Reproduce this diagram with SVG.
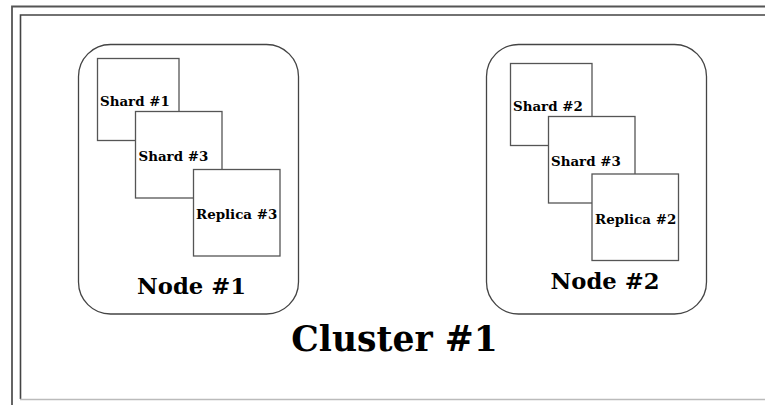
<svg xmlns="http://www.w3.org/2000/svg" width="765" height="405" viewBox="0 0 765 405">
<style>
text{font-family:"DejaVu Serif",serif;font-weight:bold;fill:#000}
.node{fill:#fff;stroke:#444;stroke-width:1.3}
.box{fill:#fff;stroke:#555;stroke-width:1.3}
.sl{font-size:13.4px}
.nl{font-size:22.7px}
</style>
<rect width="765" height="405" fill="#fff"/>
<g id="frame">
<path d="M12 410 V6.5 H770" fill="none" stroke="#555" stroke-width="1.8"/>
<path d="M20.5 399 V15 H770" fill="none" stroke="#444" stroke-width="1.6"/>
<line x1="20" y1="399.5" x2="770" y2="399.5" stroke="#bbb" stroke-width="1.6"/>
</g>
<g id="node1">
<rect class="node" x="78.5" y="44.5" width="220" height="269.5" rx="32" ry="32"/>
<g id="n1-shard1"><rect class="box" x="97.5" y="58.5" width="81.5" height="82"/><text class="sl" x="100" y="106">Shard #1</text></g>
<g id="n1-shard3"><rect class="box" x="135.5" y="111.5" width="86.5" height="86.5"/><text class="sl" x="138.5" y="161">Shard #3</text></g>
<g id="n1-replica3"><rect class="box" x="193.5" y="169.5" width="86.5" height="86.5"/><text class="sl" x="196" y="219">Replica #3</text></g>
<text class="nl" x="191.5" y="294" text-anchor="middle">Node #1</text>
</g>
<g id="node2">
<rect class="node" x="486.5" y="44.5" width="220" height="269.5" rx="32" ry="32"/>
<g id="n2-shard2"><rect class="box" x="510.5" y="63.5" width="81.5" height="82"/><text class="sl" x="513" y="111">Shard #2</text></g>
<g id="n2-shard3"><rect class="box" x="548.5" y="116.5" width="86.5" height="86.5"/><text class="sl" x="551" y="166">Shard #3</text></g>
<g id="n2-replica2"><rect class="box" x="592" y="174" width="86.5" height="86.5"/><text class="sl" x="595" y="224">Replica #2</text></g>
<text class="nl" x="605" y="289" text-anchor="middle">Node #2</text>
</g>
<g id="cluster-label">
<text x="394.5" y="351" font-size="34.6" text-anchor="middle">Cluster #1</text>
</g>
<g id="connectors"></g>
</svg>
